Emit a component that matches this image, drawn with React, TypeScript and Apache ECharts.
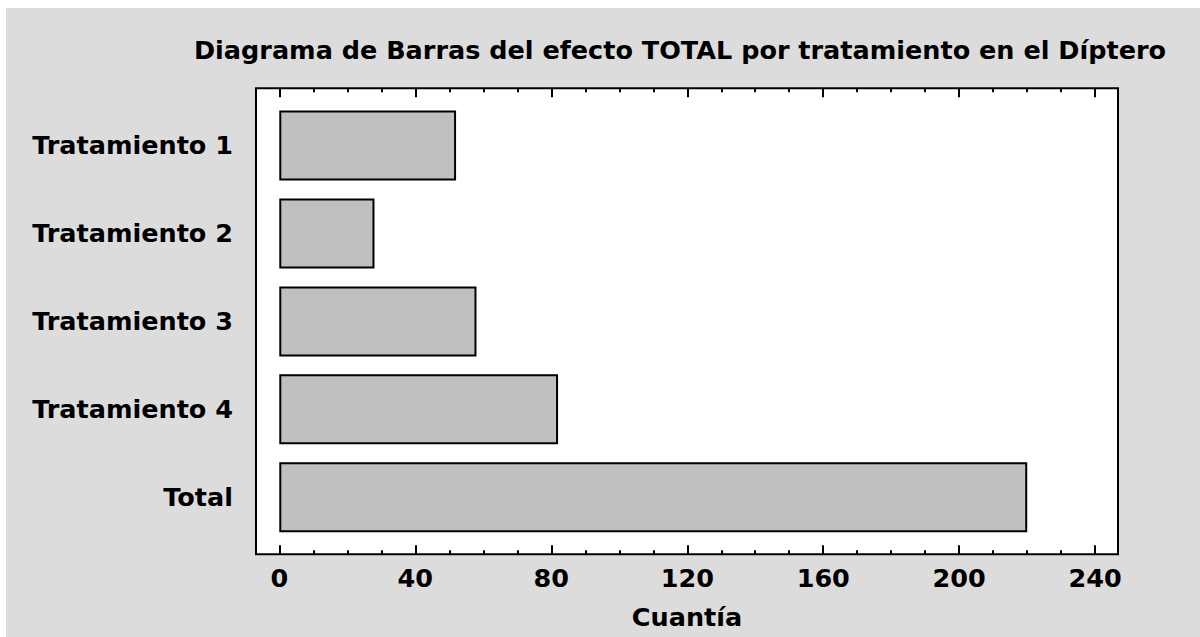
import React, { useEffect, useRef } from "react";
import * as echarts from "echarts";

const categories = ["Tratamiento 1", "Tratamiento 2", "Tratamiento 3", "Tratamiento 4", "Total"];
const values = [52, 28, 58, 82, 220];
const majorTicks = [0, 40, 80, 120, 160, 200, 240];
const minorTicks = [10, 20, 30, 50, 60, 70, 90, 100, 110, 130, 140, 150, 170, 180, 190, 210, 220, 230];
const titleText = "Diagrama de Barras del efecto TOTAL por tratamiento en el Díptero";
const xName = "Cuantía";

const FONT = "DejaVu Sans";
const FS = 25.5;
const X_MIN = -6.85;
const X_MAX = 246.7;

export default function App() {
  const ref = useRef<HTMLDivElement>(null);
  useEffect(() => {
    if (!ref.current) return;
    const chart = echarts.init(ref.current, null, { renderer: "svg" });
    const baseX = {
      type: "value",
      min: X_MIN,
      max: X_MAX,
      gridIndex: 0,
      axisLine: { show: false },
      splitLine: { show: false },
    };
    chart.setOption({
      animation: false,
      backgroundColor: "#dcdcdc",
      title: {
        text: titleText,
        left: 669,
        textAlign: "center",
        top: 24,
        textStyle: { fontFamily: FONT, fontWeight: "bold", fontSize: FS, color: "#000" },
      },
      grid: [
        {
          left: 250,
          top: 80.3,
          right: 82,
          bottom: 82.7,
          show: true,
          backgroundColor: "#ffffff",
          borderColor: "#000000",
          borderWidth: 2,
        },
        {
          left: 250,
          top: 93.5,
          right: 82,
          bottom: 95.7,
          show: false,
        },
      ],
      xAxis: [
        {
          ...baseX,
          position: "bottom",
          axisTick: {
            show: true,
            inside: true,
            length: 9,
            lineStyle: { color: "#000", width: 2 },
            customValues: majorTicks,
          },
          axisLabel: {
            show: true,
            customValues: majorTicks,
            margin: 11,
            fontFamily: FONT,
            fontWeight: "bold",
            fontSize: FS,
            color: "#000",
          },
          name: xName,
          nameLocation: "middle",
          nameGap: 50,
          nameTextStyle: { fontFamily: FONT, fontWeight: "bold", fontSize: FS, color: "#000" },
        },
        {
          ...baseX,
          position: "top",
          axisTick: {
            show: true,
            inside: true,
            length: 9,
            lineStyle: { color: "#000", width: 2 },
            customValues: majorTicks,
          },
          axisLabel: { show: false },
        },
        {
          ...baseX,
          position: "bottom",
          axisTick: {
            show: true,
            inside: true,
            length: 4,
            lineStyle: { color: "#000", width: 2 },
            customValues: minorTicks,
          },
          axisLabel: { show: false },
        },
        {
          ...baseX,
          position: "top",
          axisTick: {
            show: true,
            inside: true,
            length: 4,
            lineStyle: { color: "#000", width: 2 },
            customValues: minorTicks,
          },
          axisLabel: { show: false },
        },
        {
          type: "value",
          min: X_MIN,
          max: X_MAX,
          gridIndex: 1,
          show: false,
        },
      ],
      yAxis: [
        {
          type: "value",
          gridIndex: 0,
          min: 0,
          max: 1,
          show: false,
        },
        {
          type: "category",
          gridIndex: 1,
          data: categories,
          inverse: true,
          axisLine: { show: false },
          axisTick: { show: false },
          splitLine: { show: false },
          axisLabel: {
            margin: 23,
            fontFamily: FONT,
            fontWeight: "bold",
            fontSize: FS,
            color: "#000",
          },
        },
      ],
      series: [
        {
          type: "bar",
          xAxisIndex: 4,
          yAxisIndex: 1,
          data: values,
          barWidth: 70,
          itemStyle: { color: "#c0c0c0", borderColor: "#000000", borderWidth: 2 },
        },
      ],
    });
    return () => chart.dispose();
  }, []);
  return (
    <div
      ref={ref}
      style={{ position: "absolute", left: 6, top: 8, width: 1194, height: 629 }}
    />
  );
}
